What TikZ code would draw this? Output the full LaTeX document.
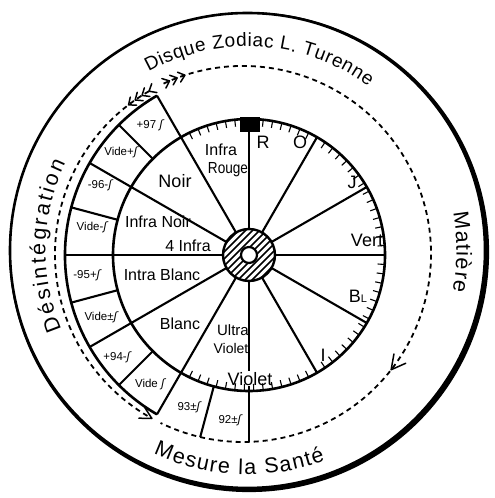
\documentclass[tikz,border=0pt]{standalone}
\usepackage{fontspec}
\setmainfont{Liberation Sans}
\newfontfamily\symfont{DejaVu Sans}
\usetikzlibrary{calc,decorations.text}
\newcommand\zsym{{\symfont\itshape ʃ}}
\newcommand\topfont{\fontsize{19}{19}\selectfont}
\newcommand\sidefont{\fontsize{21.5}{21.5}\selectfont}
\begin{document}
\begin{tikzpicture}[x=1pt,y=1pt,
  bold/.style={line width=2.6pt},
  radial/.style={line width=2.1pt},
  dashring/.style={line width=1.8pt, dash pattern=on 5pt off 4pt},
  feather/.style={line width=1.5pt, line cap=round, line join=round},
  celltext/.style={font=\fontsize{11.5}{11.5}\selectfont, inner sep=0pt},
  sectortext/.style={font=\fontsize{16}{16}\selectfont, inner sep=0pt},
  colourtext/.style={font=\fontsize{18}{18}\selectfont, inner sep=0pt},
]
\useasboundingbox (0,0) rectangle (495,498);
\coordinate (C) at (249,243);
\coordinate (O) at (247.5,247.5);
\coordinate (D) at (243,244);

% outer rim
\draw[line width=2.6pt] (O) circle (237.5);
\fill[even odd rule] ($(O)+(1.6,-1.6)$) circle (240) (O) circle (237.5);

% dashed ring with arrows
\draw[dashring] ($(D)+(115:188)$) arc[start angle=115, end angle=-116, radius=188];
\draw[dashring] ($(D)+(120:188)$) arc[start angle=120, end angle=241, radius=188];
\foreach \p in {120,122.5,125,127.5}
  \draw[feather] ($(D)+(\p:188)+(\p-50:8)$) -- ($(D)+(\p:188)$) -- ($(D)+(\p:188)+(\p-130:8)$);
\foreach \p in {108,110.5,113}
  \draw[feather] ($(D)+(\p:188)+(\p+50:8)$) -- ($(D)+(\p:188)$) -- ($(D)+(\p:188)+(\p+130:8)$);
\coordinate (tipA) at ($(D)+(-38:188)$);
\draw[feather] ($(tipA)+(80:16)$) -- (tipA) -- ($(tipA)+(24:16)$);
\coordinate (tipB) at ($(D)+(241:188)$);
\draw[feather] ($(tipB)+(179:13)$) -- (tipB) -- ($(tipB)+(123:13)$);

% cell ring
\draw[bold] ($(C)+(120:184)$) arc[start angle=120, end angle=240, radius=184];
\foreach \a in {120,150,180,210,240}
  \draw[radial] ($(C)+(\a:26)$) -- ($(C)+(\a:184)$);
\foreach \a in {135,165,195,225}
  \draw[radial] ($(C)+(\a:136)$) -- ($(C)+(\a:184)$);
\draw[radial] ($(C)+(255:136)$) -- ($(C)+(255:188.5)$);
\draw[radial] ($(C)+(270:26)$) -- ($(C)+(270:116)$);
\draw[radial] ($(C)+(270:131)$) -- ($(C)+(270:187)$);

% inner disc
\foreach \a in {0,30,60,90,-30,-60}
  \draw[radial] ($(C)+(\a:26)$) -- ($(C)+(\a:136)$);
\foreach \a in {-116,-112,...,116}
  \draw[line width=1.1pt] ($(C)+(\a:136)$) -- ($(C)+(\a:129)$);
\draw[bold] (C) circle (136);
\fill (239.5,381) rectangle (259.5,366);

% hub
\fill[white] (C) circle (26);
\begin{scope}
  \clip (C) circle (26);
  \foreach \i in {-49,-42,...,49}
    \draw[line width=1.5pt] ($(C)+(\i-30,-30)$) -- ($(C)+(\i+30,30)$);
\end{scope}
\draw[line width=2.4pt] (C) circle (26);
\filldraw[fill=white, line width=2.2pt] (C) circle (8);

% sector labels
\node[sectortext] (infra) at (221,348) {Infra};
\node[sectortext] (rouge) at (228,328) {\scalebox{0.85}[1]{Rouge}};
\node[sectortext, font=\fontsize{18}{18}\selectfont] (noir) at (175,317) {Noir};
\node[sectortext] (infranoir) at (158,276) {Infra Noir};
\node[sectortext] (quatre) at (188,252) {4 Infra};
\node[sectortext] (intrablanc) at (162,223) {Intra Blanc};
\node[sectortext] (blanc) at (180,174) {Blanc};
\node[sectortext, font=\fontsize{15}{15}\selectfont] (ultra) at (233,168) {Ultra};
\node[sectortext, font=\fontsize{14}{14}\selectfont] (ultrav) at (231,150) {Violet};

% colour labels
\node[colourtext] (r) at (263,356) {R};
\node[colourtext] (o) at (300,356) {O};
\node[colourtext] (j) at (352,316) {J};
\node[colourtext] (vert) at (367,258) {Vert};
\node[colourtext] (bl) at (358,202) {B{\fontsize{11}{11}\selectfont L}};
\node[colourtext] (i) at (323,143) {I};
\node[colourtext] (violet) at (250,119) {Violet};

% cell labels
\node[celltext] (c97) at (150,373) {+97 \zsym};
\node[celltext] (v1) at (121,346) {Vide+\zsym};
\node[celltext] (c96) at (100,313) {-96-\zsym};
\node[celltext] (v2) at (92,271) {Vide-\zsym};
\node[celltext] (c95) at (87,223) {-95+\zsym};
\node[celltext] (v3) at (101,181) {Vide±\zsym};
\node[celltext] (c94) at (117,141) {+94-\zsym};
\node[celltext] (v4) at (150,114) {Vide \zsym};
\node[celltext] (c93) at (189,91) {93±\zsym};
\node[celltext] (c92) at (230,78) {92±\zsym};

% outer texts
\path[decorate, decoration={text along path, text={|\topfont|Disque Zodiac L. Turenne}, text align={fit to path}}]
  ($(O)+(119:204)$) arc[start angle=119, end angle=53.7, radius=204];
\path[decorate, decoration={text along path, text={|\sidefont|Mesure la Santé}, text align={fit to path}}]
  ($(O)+(245.2:224)$) arc[start angle=245.2, end angle=290.3, radius=224];
\path[decorate, decoration={text along path, text={|\sidefont|Désintégration}, text align={fit to path}}]
  ($(O)+(203:202)$) arc[start angle=203, end angle=154.2, radius=202];
\path[decorate, decoration={text along path, text={|\sidefont|Matière}, text align={fit to path}}]
  ($(O)+(10.4:209)$) arc[start angle=10.4, end angle=-11.2, radius=209];
\end{tikzpicture}
\end{document}
